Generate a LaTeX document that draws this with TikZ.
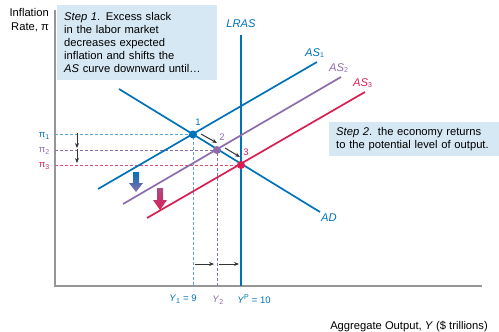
\documentclass[tikz,border=0pt]{standalone}
\usepackage{fontspec}
\setmainfont{Liberation Sans}
\usetikzlibrary{arrows.meta}
\definecolor{cblue}{RGB}{0,114,185}
\definecolor{lblue}{RGB}{90,165,215}
\definecolor{cpurple}{RGB}{140,108,172}
\definecolor{cred}{RGB}{218,30,82}
\definecolor{boxfill}{RGB}{214,232,243}
\definecolor{axisgray}{RGB}{150,150,150}
\tikzset{
  curve/.style={line width=1.7pt},
  guide/.style={dashed, line width=0.6pt, dash pattern=on 3pt off 2pt},
  dot/.style={circle, inner sep=0pt, minimum size=8pt},
  smallarr/.style={-{Stealth[length=5pt,width=4pt]}, line width=1pt, black!80},
  stepbox/.style={fill=boxfill, anchor=north west, align=left, inner xsep=7pt, inner ysep=5pt},
  lbl/.style={inner sep=1pt},
  small/.style={font=\fontsize{9.5}{12}\selectfont},
}
\begin{document}
\begin{tikzpicture}[x=1pt,y=-1pt,font=\fontsize{11.2}{13}\selectfont]
\useasboundingbox (0,0) rectangle (499,332);
% axes
\coordinate (ytop) at (55,10);
\coordinate (origin) at (55,286);
\coordinate (xend) at (482,286);
\draw[axisgray, line width=1.3pt] (ytop) -- (origin) -- (xend);
\node[anchor=north east, align=right, inner sep=0pt, font=\fontsize{11.2}{14}\selectfont] (ylabel) at (49,8) {Inflation\\Rate, π};
\node[anchor=base east, inner sep=0pt] (xlabel) at (488,329) {Aggregate Output, \textit{Y} (\$ trillions)};
% step boxes
\node[stepbox, minimum width=160pt, minimum height=75pt, text width=146pt] (step1) at (57,5)
  {\textit{Step 1}. Excess slack\\in the labor market\\decreases expected\\inflation and shifts the\\\textit{AS} curve downward until\dots};
\node[stepbox, minimum width=170pt, minimum height=32pt, text width=156pt] (step2) at (329,122)
  {\textit{Step 2}. the economy returns\\to the potential level of output.};
% key points
\coordinate (P1) at (193,134.5);
\coordinate (P2) at (217,150);
\coordinate (P3) at (241,165);
% guides
\coordinate (g1) at (55,134.5); \coordinate (b1) at (193,286);
\coordinate (g2) at (55,150);   \coordinate (b2) at (217,286);
\coordinate (g3) at (55,165);
\draw[guide, lblue] (g1) -- (P1) -- (b1);
\draw[guide, cpurple] (g2) -- (P2) -- (b2);
\draw[guide, cred!80] (g3) -- (P3);
% LRAS
\coordinate (lrasT) at (241,35);
\coordinate (lrasB) at (241,286);
\draw[cblue, line width=2pt] (lrasT) -- (lrasB);
\node[lbl, cblue] (lraslbl) at (241,24) {\textit{LRAS}};
% AD
\coordinate (adA) at (119,89);
\coordinate (adB) at (320,212);
\draw[curve, cblue] (adA) -- (adB);
\node[lbl, cblue, anchor=west] (adlbl) at (320,218) {\textit{AD}};
% AS curves
\coordinate (as1A) at (98,189);  \coordinate (as1B) at (317,62);
\coordinate (as2A) at (123,204); \coordinate (as2B) at (341,77);
\coordinate (as3A) at (147,218); \coordinate (as3B) at (365,92);
\draw[curve, cblue] (as1A) -- (as1B);
\draw[curve, cpurple] (as2A) -- (as2B);
\draw[curve, cred] (as3A) -- (as3B);
\node[lbl, cblue, anchor=south west] (as1lbl) at (304,59) {\textit{AS}\textsubscript{\scriptsize 1}};
\node[lbl, cpurple, anchor=south west] (as2lbl) at (328,74) {\textit{AS}\textsubscript{\scriptsize 2}};
\node[lbl, cred, anchor=south west] (as3lbl) at (352,89) {\textit{AS}\textsubscript{\scriptsize 3}};
% dots
\node[dot, fill=cblue] (p1) at (P1) {};
\node[dot, fill=cpurple] (p2) at (P2) {};
\node[dot, fill=cred] (p3) at (P3) {};
\node[lbl, small, cblue] (n1) at (198,122) {1};
\node[lbl, small, cpurple] (n2) at (222,137) {2};
\node[lbl, small, cred] (n3) at (246,152) {3};
% movement arrows
\coordinate (m1a) at (201,134); \coordinate (m1b) at (217,143);
\coordinate (m2a) at (225,148); \coordinate (m2b) at (240,157);
\draw[smallarr] (m1a) -- (m1b);
\draw[smallarr] (m2a) -- (m2b);
% pi labels
\node[lbl, small, cblue, anchor=east] (pi1) at (51,136) {π\textsubscript{\scriptsize 1}};
\node[lbl, small, cpurple, anchor=east] (pi2) at (51,151) {π\textsubscript{\scriptsize 2}};
\node[lbl, small, cred, anchor=east] (pi3) at (51,166) {π\textsubscript{\scriptsize 3}};
% vertical small arrows
\coordinate (v1a) at (77,133); \coordinate (v1b) at (77,148);
\coordinate (v2a) at (77,149); \coordinate (v2b) at (77,163);
\draw[smallarr] (v1a) -- (v1b);
\draw[smallarr] (v2a) -- (v2b);
% horizontal small arrows
\coordinate (h1a) at (195,264); \coordinate (h1b) at (214,264);
\coordinate (h2a) at (219,264); \coordinate (h2b) at (239,264);
\draw[smallarr] (h1a) -- (h1b);
\draw[smallarr] (h2a) -- (h2b);
% thick shaded arrows
\shade[top color=cblue, bottom color=cpurple]
  (133,172) -- (139,172) -- (139,183) -- (143,183) -- (136,192) -- (129,183) -- (133,183) -- cycle;
\shade[top color=cpurple!60!cred, bottom color=cred]
  (157,188) -- (163,188) -- (163,200) -- (167,200) -- (160,210) -- (153,200) -- (157,200) -- cycle;
% axis tick labels
\node[lbl, small, cblue] (y1) at (183,299) {\textit{Y}\textsubscript{\scriptsize 1} = 9};
\node[lbl, small, cpurple] (y2) at (218,300) {\textit{Y}\textsubscript{\scriptsize 2}};
\node[lbl, small, cblue] (yp) at (254,299) {\textit{Y}\textsuperscript{\scriptsize P} = 10};
\end{tikzpicture}
\end{document}
